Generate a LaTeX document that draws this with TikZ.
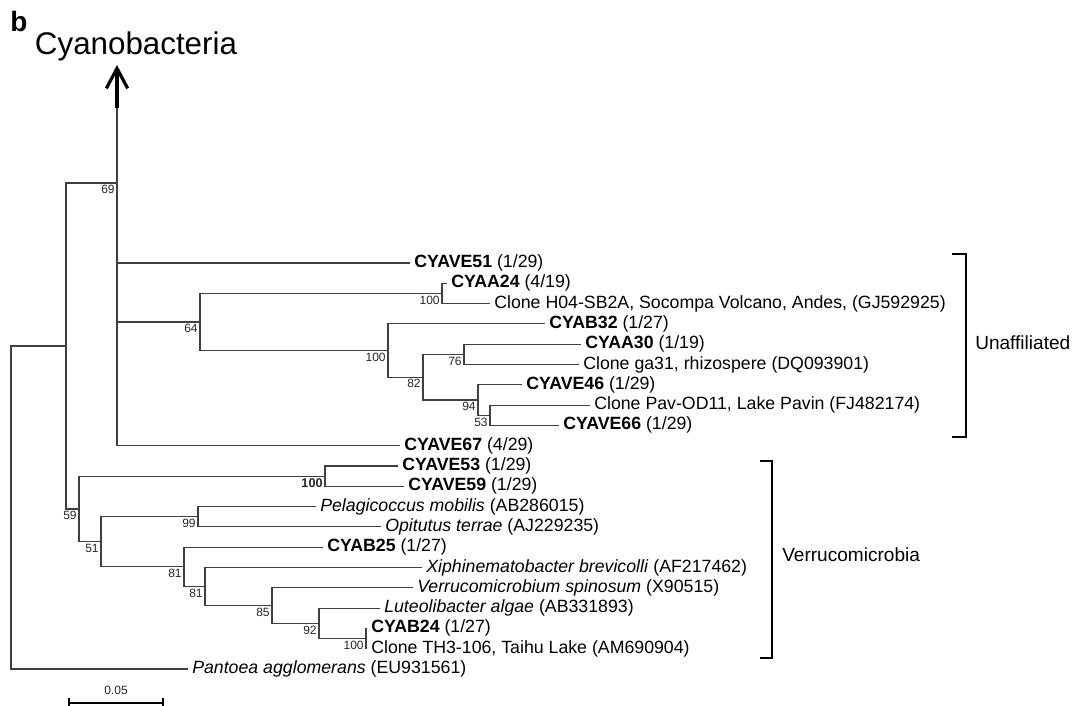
\documentclass[tikz,border=0pt]{standalone}
\usepackage{fontspec}
\setmainfont{Liberation Sans}
\usetikzlibrary{arrows.meta}

\begin{document}
\begin{tikzpicture}[x=0.75pt, y=-0.75pt,
    branch/.style={line width=0.85pt, black!75},
    leaf/.style={anchor=west, inner xsep=3pt, inner ysep=1pt, font=\fontsize{13.3}{15}\selectfont},
    boot/.style={anchor=north east, inner sep=1.6pt, font=\fontsize{9}{10}\selectfont, text=black!85},
    clade/.style={anchor=west, inner sep=0pt, font=\fontsize{14.3}{16}\selectfont},
    bracket/.style={line width=2.2pt, line cap=rect}]
    \useasboundingbox (0,0) rectangle (1076,706);

    % internal nodes of the tree
    \coordinate (root) at (11,507.5);
    \coordinate (n69) at (66,346);
    \coordinate (ncy) at (117,183);
    \coordinate (n64) at (200,322);
    \coordinate (na24) at (442,293.45);
    \coordinate (nb32) at (388,350.55);
    \coordinate (n82) at (423,377.2);
    \coordinate (n76) at (464,354.35);
    \coordinate (n94) at (478,400);
    \coordinate (n53) at (490,415.25);
    \coordinate (n59) at (79,509);
    \coordinate (n53v) at (325,476.15);
    \coordinate (n51) at (101,541.8);
    \coordinate (n99) at (198,516.75);
    \coordinate (n81a) at (184,566.85);
    \coordinate (n81b) at (205,586.5);
    \coordinate (n85) at (272,605.55);
    \coordinate (n92) at (319,623.3);
    \coordinate (nb24) at (366,638.55);
    \coordinate (cyshaft) at (117,108);
    \coordinate (cytip) at (117,65);

    % leaves
    \node[leaf] (l51) at (410,263) {\textbf{CYAVE51} (1/29)};
    \node[leaf] (la24) at (447,283.3) {\textbf{CYAA24} (4/19)};
    \node[leaf] (lh04) at (490,303.6) {Clone H04-SB2A, Socompa Volcano, Andes, (GJ592925)};
    \node[leaf] (lb32) at (545,323.9) {\textbf{CYAB32} (1/27)};
    \node[leaf] (la30) at (581,344.2) {\textbf{CYAA30} (1/19)};
    \node[leaf] (lga31) at (579,364.5) {Clone ga31, rhizospere (DQ093901)};
    \node[leaf] (l46) at (522,384.8) {\textbf{CYAVE46} (1/29)};
    \node[leaf] (lpav) at (590,405.1) {Clone Pav-OD11, Lake Pavin (FJ482174)};
    \node[leaf] (l66) at (559,425.4) {\textbf{CYAVE66} (1/29)};
    \node[leaf] (l67) at (400,445.7) {\textbf{CYAVE67} (4/29)};
    \node[leaf] (l53) at (398,466) {\textbf{CYAVE53} (1/29)};
    \node[leaf] (l59) at (404,486.3) {\textbf{CYAVE59} (1/29)};
    \node[leaf] (lpel) at (316,506.6) {\textit{Pelagicoccus mobilis} (AB286015)};
    \node[leaf] (lopi) at (381,526.9) {\textit{Opitutus terrae} (AJ229235)};
    \node[leaf] (lb25) at (323,547.2) {\textbf{CYAB25} (1/27)};
    \node[leaf] (lxip) at (422,567.5) {\textit{Xiphinematobacter brevicolli} (AF217462)};
    \node[leaf] (lver) at (413,587.8) {\textit{Verrucomicrobium spinosum} (X90515)};
    \node[leaf] (llut) at (380,608.1) {\textit{Luteolibacter algae} (AB331893)};
    \node[leaf] (lb24) at (367,628.4) {\textbf{CYAB24} (1/27)};
    \node[leaf] (lth3) at (367,648.7) {Clone TH3-106, Taihu Lake (AM690904)};
    \node[leaf] (lpan) at (188,669) {\textit{Pantoea agglomerans} (EU931561)};

    % branches
    \draw[branch] (root) |- (n69);
    \draw[branch] (root) |- (lpan.west);
    \draw[branch] (n69) |- (ncy);
    \draw[branch] (n69) |- (n59);
    \draw[branch] (ncy) -- (cyshaft);
    \draw[branch] (ncy) |- (l51.west);
    \draw[branch] (ncy) |- (n64);
    \draw[branch] (ncy) |- (l67.west);
    \draw[branch] (n64) |- (na24);
    \draw[branch] (n64) |- (nb32);
    \draw[branch] (na24) |- (la24.west);
    \draw[branch] (na24) |- (lh04.west);
    \draw[branch] (nb32) |- (lb32.west);
    \draw[branch] (nb32) |- (n82);
    \draw[branch] (n82) |- (n76);
    \draw[branch] (n82) |- (n94);
    \draw[branch] (n76) |- (la30.west);
    \draw[branch] (n76) |- (lga31.west);
    \draw[branch] (n94) |- (l46.west);
    \draw[branch] (n94) |- (n53);
    \draw[branch] (n53) |- (lpav.west);
    \draw[branch] (n53) |- (l66.west);
    \draw[branch] (n59) |- (n53v);
    \draw[branch] (n59) |- (n51);
    \draw[branch] (n53v) |- (l53.west);
    \draw[branch] (n53v) |- (l59.west);
    \draw[branch] (n51) |- (n99);
    \draw[branch] (n51) |- (n81a);
    \draw[branch] (n99) |- (lpel.west);
    \draw[branch] (n99) |- (lopi.west);
    \draw[branch] (n81a) |- (lb25.west);
    \draw[branch] (n81a) |- (n81b);
    \draw[branch] (n81b) |- (lxip.west);
    \draw[branch] (n81b) |- (n85);
    \draw[branch] (n85) |- (lver.west);
    \draw[branch] (n85) |- (n92);
    \draw[branch] (n92) |- (llut.west);
    \draw[branch] (n92) |- (nb24);
    \draw[branch] (nb24) |- (lb24.west);
    \draw[branch] (nb24) |- (lth3.west);

    % collapsed Cyanobacteria
    \draw[line width=2.4pt, -{Straight Barb[length=15pt, width=16pt]}] (cyshaft) -- (cytip);
    \node[anchor=base, inner sep=0pt, font=\fontsize{23.5}{26}\selectfont] (cyano) at (136,55) {Cyanobacteria};
    \node[anchor=base west, inner sep=0pt, font=\fontsize{21}{24}\selectfont\bfseries] (panel) at (10,32) {b};

    % bootstrap values
    \node[boot] (b69) at (ncy) {69};
    \node[boot] (b64) at (n64) {64};
    \node[boot] (ba24) at (na24) {100};
    \node[boot] (bb32) at (nb32) {100};
    \node[boot] (b82) at (n82) {82};
    \node[boot] (b76) at (n76) {76};
    \node[boot] (b94) at (n94) {94};
    \node[boot] (b53) at (n53) {53};
    \node[boot] (b59) at (n59) {59};
    \node[boot, font=\fontsize{9.5}{10}\selectfont\bfseries] (b53v) at (n53v) {100};
    \node[boot] (b51) at (n51) {51};
    \node[boot] (b99) at (n99) {99};
    \node[boot] (b81a) at (n81a) {81};
    \node[boot] (b81b) at (n81b) {81};
    \node[boot] (b85) at (n85) {85};
    \node[boot] (b92) at (n92) {92};
    \node[boot] (bb24) at (nb24) {100};

    % clade brackets
    \coordinate (u1) at (953,254);
    \coordinate (u2) at (966,254);
    \coordinate (u3) at (966,437);
    \coordinate (u4) at (953,437);
    \draw[bracket] (u1) -- (u2) -- (u3) -- (u4);
    \node[clade] (unaff) at (975,343) {Unaffiliated};
    \coordinate (v1) at (761,461);
    \coordinate (v2) at (772,461);
    \coordinate (v3) at (772,658);
    \coordinate (v4) at (761,658);
    \draw[bracket] (v1) -- (v2) -- (v3) -- (v4);
    \node[clade] (verruco) at (782,555) {Verrucomicrobia};

    % scale bar
    \coordinate (sb1) at (68,703);
    \coordinate (sb2) at (164,703);
    \draw[line width=1.8pt, {Bar[width=8pt]}-{Bar[width=8pt]}] (sb1) -- (sb2);
    \node[font=\fontsize{9}{10}\selectfont, text=black!85] (sblabel) at (116,690) {0.05};
\end{tikzpicture}
\end{document}
